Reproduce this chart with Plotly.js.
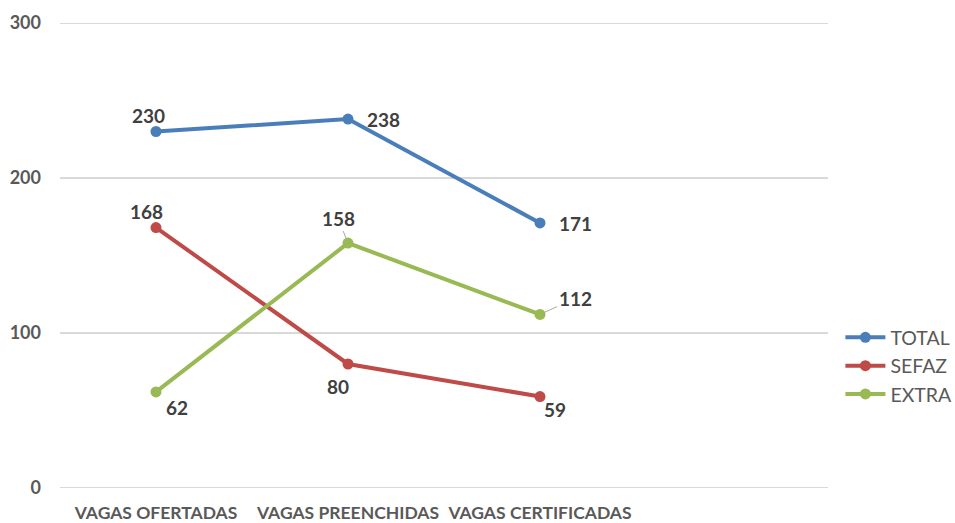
<!DOCTYPE html>
<html><head><meta charset="utf-8">
<script src="https://cdn.plot.ly/plotly-3.0.1.min.js"></script>
<style>html,body{margin:0;padding:0;background:#fff}</style>
</head><body>
<div id="chart" style="width:955px;height:523px"></div>
<script>
var categories = ['VAGAS OFERTADAS', 'VAGAS PREENCHIDAS', 'VAGAS CERTIFICADAS'];
var seriesNames = ['TOTAL', 'SEFAZ', 'EXTRA'];
var totalValues = [230, 238, 171];
var sefazValues = [168, 80, 59];
var extraValues = [62, 158, 112];
var yTicks = [0, 100, 200, 300];

var colors = ['#4A7EBB', '#BE4B48', '#98B954'];
var FONT = 'Lato, "DejaVu Sans Condensed", sans-serif';
var allValues = [totalValues, sefazValues, extraValues];

// label offsets in pixels (style, not data)
var labelOffsets = [
  [[-8,-16],[35,0],[35,1]],
  [[-10,-16],[-10,22],[15,13]],
  [[21,16],[-10,-25],[35,-16]]
];
var leader = [[false,false,false],[false,false,false],[false,true,true]];

var traces = allValues.map(function(vals, i){
  return {
    x: categories, y: vals, name: seriesNames[i], type: 'scatter', mode: 'lines+markers',
    line: {color: colors[i], width: 4},
    marker: {color: colors[i], size: 11},
    hoverinfo: 'skip'
  };
});

var annotations = [];
allValues.forEach(function(vals, i){
  vals.forEach(function(v, j){
    var off = labelOffsets[i][j];
    var a = {
      x: categories[j], y: v, xref: 'x', yref: 'y',
      text: String(v),
      font: {family: FONT, size: 19, color: '#404040', weight: 'bold'},
      showarrow: false, xshift: off[0], yshift: -off[1]
    };
    if (leader[i][j]) {
      a.showarrow = true; a.ax = off[0]; a.ay = off[1];
      a.xshift = 0; a.yshift = 0;
      a.arrowhead = 0; a.arrowwidth = 1; a.arrowcolor = '#a6a6a6'; a.standoff = 5;
    }
    annotations.push(a);
  });
});

var shapes = yTicks.map(function(t){
  return {type: 'line', xref: 'paper', yref: 'y', x0: 0, x1: 1, y0: t, y1: t,
    line: {color: '#d9d9d9', width: 2}, layer: 'below'};
});

var layout = {
  width: 955, height: 523,
  margin: {l: 60, r: 127, t: 23, b: 35, autoexpand: false},
  paper_bgcolor: '#fff', plot_bgcolor: '#fff',
  showlegend: true,
  legend: {xref: 'container', yref: 'container', x: 0.880, y: 0.30, xanchor: 'left', yanchor: 'middle',
    font: {family: FONT, size: 19.5, color: '#595959'}, tracegroupgap: 0, itemwidth: 40},
  xaxis: {type: 'category', range: [-0.5, 3.5], showgrid: false, zeroline: false,
    showline: false, ticks: '', ticklabelstandoff: 12,
    tickfont: {family: FONT, size: 17.5, color: '#595959', weight: 'bold'}, fixedrange: true},
  yaxis: {range: [0, 300], tickvals: yTicks, showgrid: false,
    zeroline: false, showline: false, ticks: '', ticklabelstandoff: 18,
    tickfont: {family: FONT, size: 18, color: '#595959', weight: 'bold'}, fixedrange: true},
  shapes: shapes,
  annotations: annotations
};

Plotly.newPlot('chart', traces, layout, {displayModeBar: false, staticPlot: true});
</script>
</body></html>
